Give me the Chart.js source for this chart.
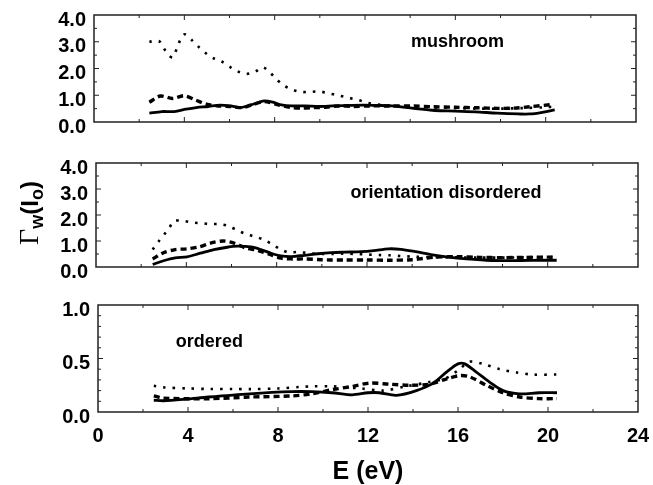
<!DOCTYPE html>
<html>
<head>
<meta charset="utf-8">
<script src="https://cdn.jsdelivr.net/npm/chart.js@4.4.1/dist/chart.umd.min.js"></script>
<style>
  html, body { margin: 0; padding: 0; background: #fff; }
  #wrap { position: relative; width: 653px; height: 485px; }
  .panel { position: absolute; left: 0; width: 653px; }
</style>
</head>
<body>
<div id="wrap">
  <div class="panel" style="top:0;height:140px"><canvas id="c1"></canvas></div>
  <div class="panel" style="top:140px;height:145px"><canvas id="c2"></canvas></div>
  <div class="panel" style="top:285px;height:200px"><canvas id="c3"></canvas></div>
</div>
<script>
// mushroom panel
const mushSolidE = [2.45, 3.0, 3.55, 4.08, 4.53, 5.06, 5.58, 6.04, 6.5, 6.94, 7.25, 7.55, 7.92, 8.3, 8.75, 9.36, 9.96, 10.57, 11.2, 11.93, 12.6, 13.2, 14.15, 15.1, 16.0, 16.9, 17.85, 18.8, 19.3, 19.9, 20.4];
const mushSolid = [0.33, 0.39, 0.39, 0.48, 0.54, 0.58, 0.63, 0.6, 0.54, 0.64, 0.72, 0.79, 0.74, 0.64, 0.6, 0.6, 0.58, 0.6, 0.62, 0.63, 0.62, 0.6, 0.51, 0.43, 0.41, 0.38, 0.33, 0.3, 0.3, 0.37, 0.45];
const mushDashE = [2.45, 2.94, 3.47, 4.0, 4.5, 4.98, 5.5, 6.04, 6.57, 7.0, 7.55, 8.15, 8.68, 9.2, 9.74, 10.26, 10.8, 11.5, 12.2, 13.0, 14.15, 15.0, 16.0, 17.0, 17.85, 18.6, 19.3, 20.25];
const mushDash = [0.74, 0.97, 0.88, 0.98, 0.82, 0.67, 0.6, 0.58, 0.54, 0.64, 0.76, 0.64, 0.55, 0.52, 0.54, 0.55, 0.6, 0.58, 0.6, 0.6, 0.6, 0.57, 0.55, 0.53, 0.51, 0.52, 0.57, 0.65];
const mushDotE = [2.45, 2.87, 3.09, 3.32, 3.5, 3.67, 3.82, 4.02, 4.33, 4.63, 4.94, 5.28, 5.63, 6.0, 6.34, 6.72, 7.12, 7.47, 7.8, 8.08, 8.4, 8.78, 9.18, 9.6, 10.0, 10.4, 10.8, 11.3, 11.7, 12.1, 12.6, 13.2, 14.0, 15.0, 16.0, 17.0, 18.0, 19.0, 20.0, 20.4];
const mushDot = [3.0, 3.03, 2.76, 2.48, 2.42, 2.76, 3.06, 3.28, 3.06, 2.81, 2.58, 2.39, 2.27, 2.07, 1.9, 1.8, 1.87, 2.05, 1.84, 1.6, 1.37, 1.21, 1.12, 1.13, 1.14, 1.07, 1.0, 0.9, 0.82, 0.72, 0.65, 0.6, 0.58, 0.55, 0.52, 0.5, 0.5, 0.52, 0.55, 0.58];

// orientation disordered panel
const disSolidE = [2.51, 2.99, 3.51, 4.03, 4.62, 5.22, 5.81, 6.26, 6.86, 7.3, 7.75, 8.19, 8.64, 9.23, 9.83, 10.42, 11.0, 11.74, 12.3, 12.95, 13.5, 14.15, 14.9, 15.6, 16.4, 17.5, 18.8, 19.7, 20.4];
const disSolid = [0.1, 0.24, 0.35, 0.39, 0.53, 0.67, 0.76, 0.8, 0.77, 0.67, 0.53, 0.43, 0.4, 0.45, 0.51, 0.55, 0.57, 0.59, 0.63, 0.7, 0.68, 0.59, 0.47, 0.38, 0.31, 0.25, 0.25, 0.26, 0.26];
const disDashE = [2.51, 2.99, 3.51, 4.03, 4.55, 5.07, 5.64, 6.11, 6.63, 7.15, 7.67, 8.19, 8.71, 9.23, 9.98, 10.4, 11.0, 12.0, 13.0, 14.0, 14.5, 15.0, 16.0, 17.0, 18.0, 19.0, 20.0, 20.4];
const disDash = [0.31, 0.55, 0.67, 0.7, 0.77, 0.92, 1.0, 0.92, 0.73, 0.64, 0.49, 0.34, 0.31, 0.31, 0.28, 0.27, 0.27, 0.27, 0.26, 0.28, 0.33, 0.38, 0.4, 0.37, 0.36, 0.37, 0.38, 0.37];
const disDotE = [2.51, 2.77, 3.02, 3.24, 3.46, 3.88, 4.3, 4.7, 5.07, 5.49, 5.89, 6.26, 6.66, 7.08, 7.45, 7.82, 8.19, 8.56, 8.94, 9.5, 10.0, 10.5, 11.0, 11.5, 12.0, 12.5, 13.0, 13.5, 14.0, 15.0, 16.0, 17.0, 18.0, 19.0, 20.0, 20.4];
const disDot = [0.67, 0.98, 1.25, 1.5, 1.77, 1.77, 1.71, 1.68, 1.65, 1.65, 1.57, 1.41, 1.26, 1.16, 1.04, 0.86, 0.67, 0.55, 0.58, 0.52, 0.5, 0.5, 0.52, 0.5, 0.48, 0.46, 0.45, 0.42, 0.4, 0.38, 0.37, 0.36, 0.36, 0.37, 0.38, 0.38];

// ordered panel
const ordSolidE = [2.48, 2.9, 3.9, 4.9, 6.74, 8.6, 9.5, 10.4, 11.3, 12.0, 12.5, 13.26, 14.15, 14.9, 15.5, 16.0, 16.3, 16.8, 17.4, 18.0, 18.74, 19.6, 20.4];
const ordSolid = [0.11, 0.105, 0.12, 0.14, 0.17, 0.19, 0.19, 0.18, 0.16, 0.18, 0.18, 0.156, 0.2, 0.27, 0.375, 0.45, 0.45, 0.375, 0.28, 0.2, 0.17, 0.18, 0.18];
const ordDashE = [2.48, 2.9, 4.9, 6.74, 8.6, 9.5, 10.44, 11.33, 12.07, 12.96, 13.85, 14.74, 15.5, 16.07, 16.5, 17.26, 18.0, 18.74, 19.6, 20.4];
const ordDash = [0.15, 0.13, 0.124, 0.14, 0.15, 0.17, 0.21, 0.24, 0.27, 0.26, 0.25, 0.26, 0.31, 0.34, 0.33, 0.25, 0.18, 0.14, 0.125, 0.125];
const ordDotE = [2.48, 2.9, 4.0, 5.0, 6.0, 6.74, 8.0, 8.96, 9.5, 10.4, 11.0, 11.7, 12.67, 13.7, 14.74, 15.5, 16.07, 16.5, 17.1, 17.85, 18.6, 19.33, 20.4];
const ordDot = [0.245, 0.23, 0.22, 0.215, 0.215, 0.214, 0.22, 0.234, 0.24, 0.24, 0.23, 0.22, 0.2, 0.24, 0.28, 0.32, 0.4, 0.47, 0.45, 0.4, 0.37, 0.35, 0.35];

const panelLabels = ['mushroom', 'orientation disordered', 'ordered'];
const xTitle = 'E (eV)';

const tickFont = { family: '"Liberation Sans", Arial, sans-serif', size: 20, weight: 'bold', lineHeight: 1 };
const labelFont = 'bold 18px "Liberation Sans", Arial, sans-serif';

const pairs = (xs, ys) => xs.map((x, i) => ({ x, y: ys[i] }));

const lineStyles = {
  solid: { borderWidth: 2.8, borderDash: [] },
  dash: { borderWidth: 3.4, borderDash: [6, 4] },
  dot: { borderWidth: 2.6, borderDash: [2.5, 7] }
};

const series = (xs, ys, kind) => ({
  data: pairs(xs, ys),
  borderColor: '#000',
  pointRadius: 0,
  tension: 0.3,
  fill: false,
  ...lineStyles[kind]
});

// frame with inward ticks on all sides, plus the panel label
const framePlugin = {
  id: 'frame',
  afterDatasetsDraw(chart) {
    const { ctx, chartArea: a, scales: { x, y } } = chart;
    const o = chart.options.plugins.frame;
    ctx.save();
    ctx.strokeStyle = '#222';
    ctx.lineWidth = 1.5;
    ctx.strokeRect(a.left, a.top, a.right - a.left, a.bottom - a.top);
    ctx.lineWidth = 1;
    for (let v = 2; v < 24; v += 2) {
      const px = x.getPixelForValue(v);
      const len = v % 4 === 0 ? 5 : 3;
      ctx.beginPath();
      ctx.moveTo(px, a.bottom); ctx.lineTo(px, a.bottom - len);
      ctx.moveTo(px, a.top); ctx.lineTo(px, a.top + len);
      ctx.stroke();
    }
    const n = Math.round(o.yMax / o.minor);
    for (let i = 1; i < n; i++) {
      const v = i * o.minor;
      const py = y.getPixelForValue(v);
      const major = Math.abs(v / o.major - Math.round(v / o.major)) < 1e-6;
      const len = major ? 5 : 3;
      ctx.beginPath();
      ctx.moveTo(a.left, py); ctx.lineTo(a.left + len, py);
      ctx.moveTo(a.right, py); ctx.lineTo(a.right - len, py);
      ctx.stroke();
    }
    ctx.fillStyle = '#000';
    ctx.font = labelFont;
    ctx.textAlign = 'center';
    ctx.textBaseline = 'middle';
    ctx.fillText(o.label, x.getPixelForValue(o.labelAt[0]), y.getPixelForValue(o.labelAt[1]));
    if (o.yTitle) {
      // Γw(Io), rotated
      ctx.translate(o.yTitle[0], o.yTitle[1]);
      ctx.rotate(-Math.PI / 2);
      ctx.textAlign = 'left';
      ctx.textBaseline = 'alphabetic';
      const parts = [
        ['Γ', '28px "Liberation Serif", serif', 0],
        ['w', 'bold 18px "Liberation Sans", sans-serif', 5],
        ['(I', 'bold 24px "Liberation Sans", sans-serif', 0],
        ['o', 'bold 18px "Liberation Sans", sans-serif', 5],
        [')', 'bold 24px "Liberation Sans", sans-serif', 0]
      ];
      let total = 0;
      parts.forEach(p => { ctx.font = p[1]; total += ctx.measureText(p[0]).width; });
      let cx = -total / 2;
      parts.forEach(p => {
        ctx.font = p[1];
        ctx.fillText(p[0], cx, 8 + p[2]);
        cx += ctx.measureText(p[0]).width;
      });
    }
    ctx.restore();
  }
};

const makePanel = (id, datasets, cfg) => new Chart(document.getElementById(id), {
  type: 'line',
  data: { datasets },
  options: {
    responsive: true,
    maintainAspectRatio: false,
    animation: false,
    layout: { padding: { top: cfg.top, right: cfg.right, left: 0, bottom: 0 } },
    plugins: {
      legend: { display: false },
      tooltip: { enabled: false },
      frame: cfg.frame
    },
    scales: {
      x: {
        type: 'linear',
        min: 0,
        max: 24,
        grid: { display: false, drawTicks: true, tickLength: 14 },
        border: { display: false },
        ticks: { display: cfg.showX, stepSize: 4, padding: 0, color: '#000', font: tickFont, autoSkip: false, maxRotation: 0 },
        title: {
          display: cfg.showX,
          text: xTitle,
          color: '#000',
          padding: 0,
          font: { family: '"Liberation Sans", Arial, sans-serif', size: 25, weight: 'bold', lineHeight: 1 }
        },
        afterFit: s => { s.height = cfg.xHeight; }
      },
      y: {
        min: 0,
        max: cfg.frame.yMax,
        grid: { display: false, drawTicks: true, tickLength: 8 },
        border: { display: false },
        ticks: {
          stepSize: cfg.frame.major,
          autoSkip: false,
          padding: 0,
          labelOffset: 5,
          color: '#000',
          font: tickFont,
          callback: v => v.toFixed(1)
        },
        afterFit: s => { s.width = cfg.left; }
      }
    }
  },
  plugins: [framePlugin]
});

makePanel('c1', [
  series(mushSolidE, mushSolid, 'solid'),
  series(mushDashE, mushDash, 'dash'),
  series(mushDotE, mushDot, 'dot')
], {
  top: 15, right: 17, left: 94, xHeight: 18, showX: false,
  frame: { yMax: 4, major: 1, minor: 0.5, label: panelLabels[0], labelAt: [16.1, 3.0] }
});

makePanel('c2', [
  series(disSolidE, disSolid, 'solid'),
  series(disDashE, disDash, 'dash'),
  series(disDotE, disDot, 'dot')
], {
  top: 23, right: 15, left: 96, xHeight: 18, showX: false,
  frame: { yMax: 4, major: 1, minor: 0.5, label: panelLabels[1], labelAt: [15.5, 2.86], yTitle: [30, 73] }
});

makePanel('c3', [
  series(ordSolidE, ordSolid, 'solid'),
  series(ordDashE, ordDash, 'dash'),
  series(ordDotE, ordDot, 'dot')
], {
  top: 20, right: 15, left: 98, xHeight: 73, showX: true,
  frame: { yMax: 1, major: 0.5, minor: 0.1, label: panelLabels[2], labelAt: [4.95, 0.65] }
});
</script>
</body>
</html>
